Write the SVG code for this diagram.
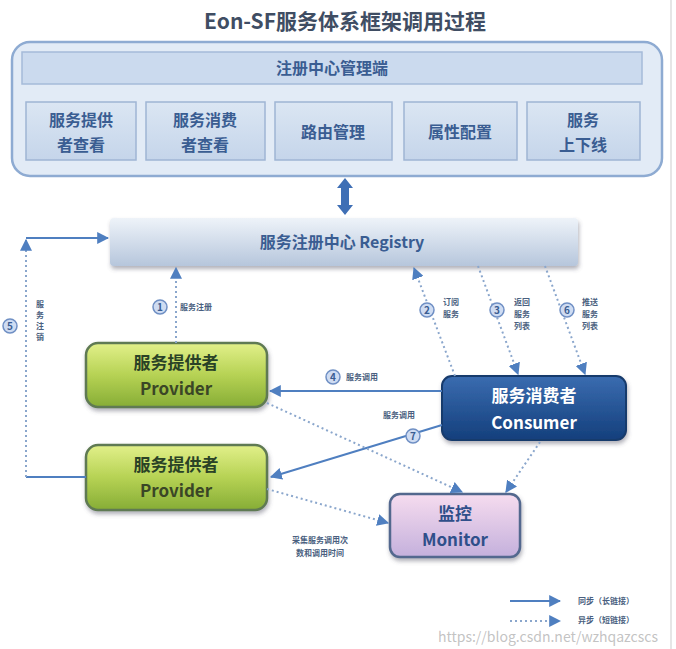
<svg xmlns="http://www.w3.org/2000/svg" width="676" height="649" viewBox="0 0 676 649">
<defs>
<linearGradient id="gReg" x1="0" y1="0" x2="0" y2="1"><stop offset="0" stop-color="#eef3f9"/><stop offset="1" stop-color="#b6c6dc"/></linearGradient>
<linearGradient id="gProv" x1="0" y1="0" x2="0" y2="1"><stop offset="0" stop-color="#e2f08a"/><stop offset="0.5" stop-color="#b6d254"/><stop offset="1" stop-color="#86ad36"/></linearGradient>
<linearGradient id="gCons" x1="0" y1="0" x2="0" y2="1"><stop offset="0" stop-color="#3a6cb0"/><stop offset="1" stop-color="#143f7c"/></linearGradient>
<linearGradient id="gMon" x1="0" y1="0" x2="0" y2="1"><stop offset="0" stop-color="#f6dcef"/><stop offset="1" stop-color="#c4b0dc"/></linearGradient>
<linearGradient id="gCell" x1="0" y1="0" x2="0" y2="1"><stop offset="0" stop-color="#dbe6f3"/><stop offset="1" stop-color="#c5d5ea"/></linearGradient>
<marker id="arr" viewBox="0 0 10 10" refX="9" refY="5" markerWidth="6" markerHeight="6" orient="auto"><path d="M0,0 L10,5 L0,10 z" fill="#4f7fc0"/></marker>
<filter id="sh" x="-10%" y="-10%" width="130%" height="140%"><feDropShadow dx="1" dy="3" stdDeviation="2" flood-color="#556" flood-opacity="0.45"/></filter>
</defs>
<style>
text{font-family:"Noto Sans CJK SC","Liberation Sans",sans-serif;}
.t{fill:#3a5d92;font-weight:bold;font-size:16px;text-anchor:middle;}
.s{fill:#4a5f80;font-size:8px;font-weight:bold;}
.cell{fill:url(#gCell);stroke:#9fb5d4;stroke-width:1.5;}
.solid{stroke:#4f7fc0;stroke-width:2;fill:none;}
.dot{stroke:#8aa6cc;stroke-width:2;fill:none;stroke-dasharray:2 3;}
.num{fill:#cfdcf2;stroke:#6f8fc4;stroke-width:1.5;}
.numt{fill:#3a5d92;font-size:10px;font-weight:bold;text-anchor:middle;}
</style>
<rect x="0" y="0" width="676" height="649" fill="#ffffff"/>
<line x1="671" y1="0" x2="671" y2="649" stroke="#e6e6e6" stroke-width="2"/>
<text x="345" y="29" text-anchor="middle" font-size="21" font-weight="bold" fill="#3f4d63">Eon-SF服务体系框架调用过程</text>

<g id="mgmt">
<rect x="12" y="42" width="650" height="134" rx="18" fill="#e2ebf6" stroke="#8eabd2" stroke-width="2.5"/>
<rect x="22" y="52" width="620" height="32" fill="#cbdaee" stroke="#a5bbd9" stroke-width="1.5"/>
<text class="t" x="332" y="74">注册中心管理端</text>
</g>
<g id="m1"><rect class="cell" x="26" y="102" width="110" height="58"/><text class="t" x="81" y="126">服务提供</text><text class="t" x="81" y="151">者查看</text></g>
<g id="m2"><rect class="cell" x="146" y="102" width="119" height="58"/><text class="t" x="205" y="126">服务消费</text><text class="t" x="205" y="151">者查看</text></g>
<g id="m3"><rect class="cell" x="275" y="102" width="117" height="58"/><text class="t" x="333" y="138">路由管理</text></g>
<g id="m4"><rect class="cell" x="404" y="102" width="113" height="58"/><text class="t" x="460" y="138">属性配置</text></g>
<g id="m5"><rect class="cell" x="527" y="102" width="113" height="58"/><text class="t" x="583" y="126">服务</text><text class="t" x="583" y="151">上下线</text></g>

<g id="registry">
<rect x="110" y="218" width="468" height="48" rx="4" fill="url(#gReg)" filter="url(#sh)"/>
<text class="t" x="342" y="248" font-size="17" fill="#2f548c">服务注册中心 Registry</text>
</g>

<g id="provider1">
<rect x="86" y="343" width="181" height="64" rx="12" fill="url(#gProv)" stroke="#5f7a52" stroke-width="2.5" filter="url(#sh)"/>
<text x="176" y="369" text-anchor="middle" font-size="17" font-weight="bold" fill="#2a4226">服务提供者</text>
<text x="176" y="395" text-anchor="middle" font-size="17" font-weight="bold" fill="#3a4626">Provider</text>
</g>
<g id="provider2">
<rect x="86" y="445" width="181" height="65" rx="12" fill="url(#gProv)" stroke="#5f7a52" stroke-width="2.5" filter="url(#sh)"/>
<text x="176" y="471" text-anchor="middle" font-size="17" font-weight="bold" fill="#2a4226">服务提供者</text>
<text x="176" y="497" text-anchor="middle" font-size="17" font-weight="bold" fill="#3a4626">Provider</text>
</g>
<g id="consumer">
<rect x="442" y="376" width="184" height="64" rx="10" fill="url(#gCons)" stroke="#163a6c" stroke-width="2" filter="url(#sh)"/>
<text x="534" y="402" text-anchor="middle" font-size="17" font-weight="bold" fill="#ffffff">服务消费者</text>
<text x="534" y="429" text-anchor="middle" font-size="17" font-weight="bold" fill="#ffffff">Consumer</text>
</g>
<g id="monitor">
<rect x="390" y="494" width="130" height="63" rx="10" fill="url(#gMon)" stroke="#52688e" stroke-width="2.5" filter="url(#sh)"/>
<text x="455" y="520" text-anchor="middle" font-size="17" font-weight="bold" fill="#2f4f8a">监控</text>
<text x="455" y="546" text-anchor="middle" font-size="17" font-weight="bold" fill="#2f4f8a">Monitor</text>
</g>

<g id="connectors">
<path d="M345,178 L353,188 L349,188 L349,205 L353,205 L345,215 L337,205 L341,205 L341,188 L337,188 Z" fill="#3f6fb5"/>
<line x1="86" y1="477" x2="26" y2="477" stroke="#4f7fc0" stroke-width="2"/>
<line class="dot" x1="26" y1="477" x2="26" y2="240" marker-end="url(#arr)"/>
<line class="solid" x1="26" y1="238" x2="108" y2="238" marker-end="url(#arr)"/>
<circle class="num" cx="10" cy="326" r="7"/><text class="numt" x="10" y="330">5</text>
<text class="s" x="36" y="307">服</text><text class="s" x="36" y="318">务</text><text class="s" x="36" y="329">注</text><text class="s" x="36" y="340">销</text>
<line class="dot" x1="176" y1="343" x2="176" y2="268" marker-end="url(#arr)"/>
<circle class="num" cx="160" cy="307" r="7"/><text class="numt" x="160" y="311">1</text>
<text class="s" x="180" y="310">服务注册</text>
<line class="dot" x1="455" y1="376" x2="414" y2="268" marker-end="url(#arr)"/>
<circle class="num" cx="427" cy="310" r="7"/><text class="numt" x="427" y="314">2</text>
<text class="s" x="443" y="305">订阅</text><text class="s" x="443" y="317">服务</text>
<line class="dot" x1="478" y1="266" x2="518" y2="374" marker-end="url(#arr)"/>
<circle class="num" cx="497" cy="310" r="7"/><text class="numt" x="497" y="314">3</text>
<text class="s" x="514" y="305">返回</text><text class="s" x="514" y="317">服务</text><text class="s" x="514" y="329">列表</text>
<line class="dot" x1="545" y1="266" x2="585" y2="374" marker-end="url(#arr)"/>
<circle class="num" cx="567" cy="310" r="7"/><text class="numt" x="567" y="314">6</text>
<text class="s" x="582" y="305">推送</text><text class="s" x="582" y="317">服务</text><text class="s" x="582" y="329">列表</text>
<line class="solid" x1="442" y1="391" x2="270" y2="391" marker-end="url(#arr)"/>
<circle class="num" cx="333" cy="377" r="7"/><text class="numt" x="333" y="381">4</text>
<text class="s" x="346" y="380">服务调用</text>
<line class="solid" x1="442" y1="425" x2="271" y2="477" marker-end="url(#arr)"/>
<text class="s" x="383" y="418">服务调用</text>
<circle class="num" cx="413" cy="436" r="7"/><text class="numt" x="413" y="440">7</text>
<line class="dot" x1="267" y1="403" x2="462" y2="492" marker-end="url(#arr)"/>
<line class="dot" x1="267" y1="489" x2="388" y2="523" marker-end="url(#arr)"/>
<line class="dot" x1="540" y1="442" x2="506" y2="492" marker-end="url(#arr)"/>
<text class="s" x="292" y="543" font-size="7.5">采集服务调用次</text>
<text class="s" x="296" y="556" font-size="7.5">数和调用时间</text>
</g>

<g id="legend">
<line class="solid" x1="510" y1="601" x2="560" y2="601" marker-end="url(#arr)"/>
<text class="s" x="578" y="604">同步（长链接）</text>
<line class="dot" x1="510" y1="621" x2="560" y2="621" marker-end="url(#arr)"/>
<text class="s" x="578" y="623">异步（短链接）</text>
</g>
<text x="438" y="642" font-family="Liberation Sans, sans-serif" font-size="14" fill="#b8b8b8" fill-opacity="0.85">https://blog.csdn.net/wzhqazcscs</text>
</svg>
